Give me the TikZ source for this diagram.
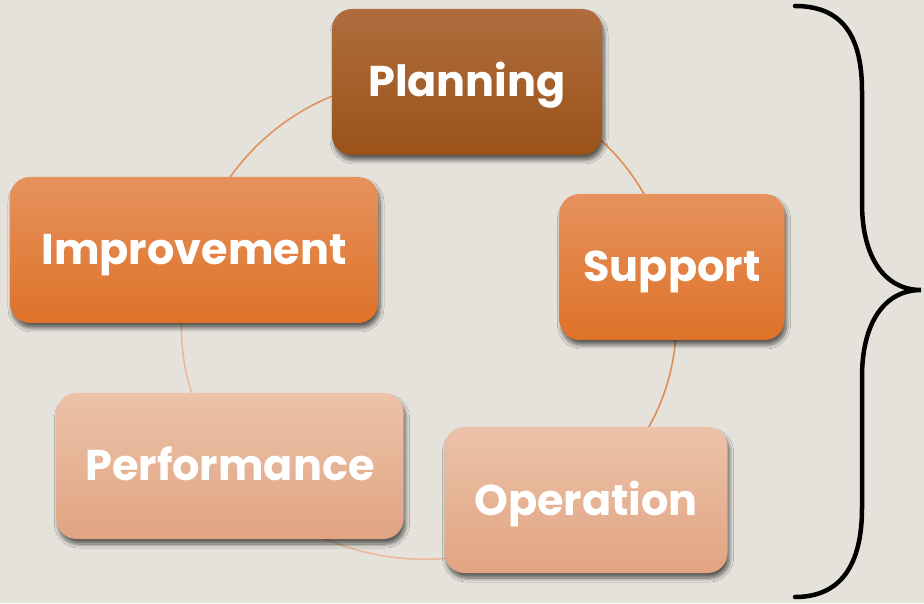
\documentclass[tikz,border=0pt]{standalone}
\usepackage{fontspec}
\setmainfont{Poppins}
\usetikzlibrary{shadows.blur,backgrounds}
\definecolor{paper}{HTML}{E5E2DB}
\definecolor{rusttop}{HTML}{AF6D3E}
\definecolor{rustbot}{HTML}{9A5218}
\definecolor{ambertop}{HTML}{E6925E}
\definecolor{amberbot}{HTML}{DE7228}
\definecolor{peachtop}{HTML}{ECC2A9}
\definecolor{peachbot}{HTML}{E1A482}
\definecolor{ringdark}{HTML}{DD8E55}
\definecolor{ringpale}{HTML}{EBB89C}

\begin{document}
\begin{tikzpicture}[x=1pt,y=1pt,
  every node/.style={rounded corners=20pt,align=center,minimum height=146pt,
    font=\fontsize{43}{50}\selectfont\bfseries,text=white,
    text height=30pt,text depth=0pt,
    blur shadow={shadow xshift=2pt,shadow yshift=-5pt,shadow blur radius=4pt,
      shadow blur steps=8,shadow opacity=60}},
  rust/.style={top color=rusttop,bottom color=rustbot},
  amber/.style={top color=ambertop,bottom color=amberbot},
  peach/.style={top color=peachtop,bottom color=peachbot},
  ring/.style={line width=1.6pt}]
\useasboundingbox (0,0) rectangle (924,603);
% the five stages round the cycle
\node[rust,minimum width=270pt] (plan) at (467,521) {Planning};
\node[amber,minimum width=225pt] (supp) at (672,336) {Support};
\node[peach,minimum width=283pt] (oper) at (586,103) {Operation};
\node[peach,minimum width=347pt] (perf) at (230,137) {Performance};
\node[amber,minimum width=368pt] (impr) at (194,353) {Improvement};
\begin{scope}[on background layer]
\fill[paper] (0,0) rectangle (924,603);
\draw[ring,ringdark] (plan.center) to[bend left=35] (supp.center);
\draw[ring,ringdark] (supp.center) to[bend left=30] (oper.center);
\draw[ring,ringpale] (oper.center) to[bend left=46] (perf.center);
\draw[ring,ringpale] (perf.center) to[bend left=26] (impr.center);
\draw[ring,ringdark!85!ringpale] (impr.center) to[bend left=41] (plan.center);
\end{scope}
% brace on the right
\draw[line width=4.5pt,line cap=round,line join=miter]
  (795,597) .. controls (840,597) and (862,570) .. (862,512) -- (862,400)
  .. controls (862,345) and (885,313) .. (921,313)
  .. controls (885,313) and (862,281) .. (862,226) -- (862,95)
  .. controls (862,37) and (840,6) .. (795,6);
\end{tikzpicture}
\end{document}
